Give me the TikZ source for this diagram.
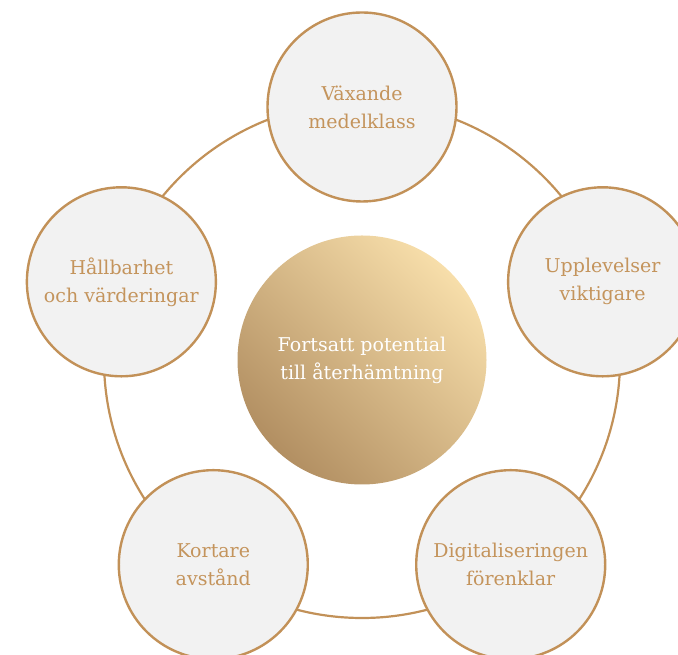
\documentclass[tikz,border=0pt]{standalone}
\usepackage{fontspec}
\setmainfont{DejaVu Serif}
\definecolor{goldline}{RGB}{194,145,88}
\definecolor{goldtext}{RGB}{196,148,92}
\definecolor{satfill}{RGB}{242,242,242}
\definecolor{goldlight}{RGB}{247,222,170}
\definecolor{golddark}{RGB}{178,143,98}
\tikzset{
  satnode/.style = {circle, draw=goldline, line width=2.4pt, fill=satfill, minimum size=189pt, inner sep=0pt, align=center, text=goldtext, font=\fontsize{19}{28}\selectfont},
  corenode/.style = {circle, minimum size=249pt, inner sep=0pt, align=center, text=white, top color=goldlight, bottom color=golddark, shading angle=-45, font=\fontsize{19}{28}\selectfont},
  ringline/.style = {draw=goldline, line width=2.2pt},
}

\begin{document}
\begin{tikzpicture}[x=1pt, y=1pt]
\useasboundingbox (0,0) rectangle (678,655);
\clip (0,0) rectangle (678,655);

% Centre
\node[corenode] (core) at (362,295) {Fortsatt potential\\till återhämtning};

% Ring behind the satellites
\draw[ringline] (core.center) circle[radius=258];

% Satellites
\begin{scope}[shift={(362,295)}]
  \node[satnode] (vaxande)  at (90:253)   {Växande\\medelklass};
  \node[satnode] (upplev)   at (18:253)   {Upplevelser\\viktigare};
  \node[satnode] (digital)  at (-54:253)  {Digitaliseringen\\förenklar};
  \node[satnode] (kortare)  at (-126:253) {Kortare\\avstånd};
  \node[satnode] (hallbar)  at (162:253)  {Hållbarhet\\och värderingar};
\end{scope}

\end{tikzpicture}
\end{document}
